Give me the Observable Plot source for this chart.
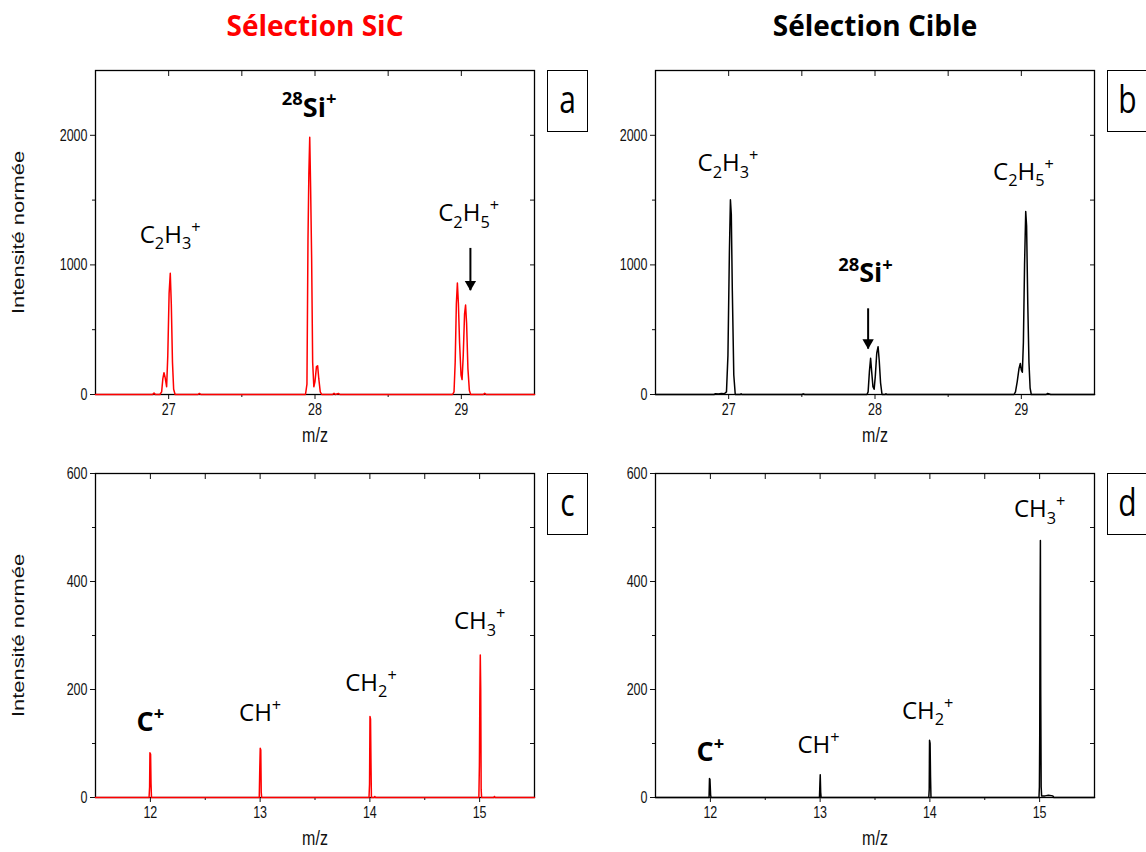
<!DOCTYPE html>
<html>
<head>
<meta charset="utf-8">
<script src="https://cdn.jsdelivr.net/npm/d3@7"></script>
<script src="https://cdn.jsdelivr.net/npm/@observablehq/plot@0.6"></script>
<style>
  html, body { margin: 0; padding: 0; background: #fff; }
  #fig { position: relative; width: 1146px; height: 852px; overflow: hidden; background: #fff; }
  #fig svg { position: absolute; }
  .title { position: absolute; top: 8px; font-family: "Open Sans", sans-serif; font-weight: bold; font-size: 28px; line-height: 34px; white-space: nowrap; transform: translateX(-50%); }
  .tag { position: absolute; box-sizing: border-box; width: 41px; height: 62px; border: 1.3px solid #000; background: #fff;
         font-family: "Open Sans", sans-serif; font-size: 30px; line-height: 56px; text-align: center; color: #000; }
  .tag span { display: inline-block; transform: scaleY(1.3); }
</style>
</head>
<body>
<div id="fig"></div>
<script>
// ---------------- data ----------------
// [m/z, normalised intensity]
const spectrumA = [ // Sélection SiC, m/z 26.5–29.5 (red)
  [26.50,0],[26.89,0],[26.90,12],[26.91,0],[26.94,0],[26.952,20],[26.960,120],[26.968,168],[26.976,130],
  [26.986,60],[26.994,300],[27.003,780],[27.011,936],[27.018,700],[27.026,250],[27.034,40],[27.044,0],
  [27.20,0],[27.21,8],[27.22,0],
  [27.935,0],[27.945,80],[27.952,1185],[27.958,1700],[27.964,1985],[27.970,1600],[27.977,1050],[27.984,250],
  [27.992,60],[28.000,100],[28.010,215],[28.018,222],[28.026,120],[28.036,20],[28.046,0],
  [28.12,0],[28.13,10],[28.14,0],[28.16,8],[28.17,0],
  [28.940,0],[28.950,20],[28.958,250],[28.966,700],[28.973,860],[28.980,700],[28.988,400],[28.998,150],
  [29.005,115],[29.013,300],[29.022,620],[29.029,690],[29.036,550],[29.045,200],[29.055,30],[29.064,0],
  [29.15,0],[29.16,10],[29.17,0],[29.50,0]
];
const spectrumB = [ // Sélection Cible, m/z 26.5–29.5 (black)
  [26.50,0],[26.90,0],[26.91,6],[26.93,4],[26.95,8],[26.97,6],[26.985,20],[26.995,300],[27.005,1100],
  [27.012,1503],[27.018,1390],[27.025,800],[27.035,150],[27.045,0],
  [27.08,0],[27.085,6],[27.09,0],[27.50,0],[27.51,5],[27.52,0],
  [27.945,0],[27.953,20],[27.962,180],[27.970,280],[27.977,180],[27.986,60],[27.994,40],[28.002,140],
  [28.012,320],[28.021,369],[28.029,260],[28.038,90],[28.048,0],
  [28.07,0],[28.075,6],[28.08,0],
  [28.950,0],[28.960,20],[28.972,100],[28.984,200],[28.993,240],[29.000,190],[29.007,172],[29.014,400],
  [29.022,1000],[29.030,1412],[29.036,1300],[29.044,700],[29.052,250],[29.060,50],[29.068,0],
  [29.17,0],[29.18,8],[29.19,5],[29.20,0],[29.50,0]
];
const spectrumC = [ // Sélection SiC, m/z 11.5–15.5 (red)
  [11.50,0],[11.988,0],[11.993,20],[11.996,83],[12.002,80],[12.006,25],[12.010,0],
  [12.992,0],[12.997,55],[13.001,91],[13.006,88],[13.010,10],[13.014,0],
  [13.992,0],[13.997,25],[14.001,150],[14.006,145],[14.010,65],[14.014,0],[14.04,0],[14.045,2],[14.05,0],
  [14.993,0],[14.998,60],[15.002,185],[15.006,264],[15.010,200],[15.014,15],[15.018,0],
  [15.13,0],[15.135,2],[15.14,0],[15.50,0]
];
const spectrumD = [ // Sélection Cible, m/z 11.5–15.5 (black)
  [11.50,0],[11.988,0],[11.992,35],[11.996,34],[12.002,5],[12.006,0],
  [12.994,0],[12.998,25],[13.001,42],[13.005,10],[13.009,0],
  [13.990,0],[13.994,15],[13.997,106],[14.002,100],[14.006,38],[14.010,0],
  [14.994,0],[14.998,20],[15.001,115],[15.004,353],[15.007,476],[15.010,200],[15.014,20],[15.018,3],
  [15.05,3],[15.08,4],[15.12,3],[15.13,0],[15.50,0]
];

// ion labels: text ("_" subscript, "^" superscript), anchor m/z, anchor intensity, bold
const ionsA = [["C_2H_3^+", 27.01, 1230, false], ["^{28}Si^+", 27.96, 2211, true], ["C_2H_5^+", 29.05, 1395, false]];
const ionsB = [["C_2H_3^+", 26.995, 1780, false], ["^{28}Si^+", 27.935, 933, true], ["C_2H_5^+", 29.015, 1716, false]];
const ionsC = [["C^+", 12.0, 139, true], ["CH^+", 13.0, 155, false], ["CH_2^+", 14.01, 212, false], ["CH_3^+", 15.0, 326, false]];
const ionsD = [["C^+", 12.0, 83, true], ["CH^+", 12.985, 96, false], ["CH_2^+", 13.98, 160, false], ["CH_3^+", 15.0, 533, false]];

// arrows: m/z, start intensity, tip intensity
const arrowsA = [[29.062, 1131, 805]];
const arrowsB = [[27.953, 665, 354]];

// axes
const xTicksHigh = [27, 28, 29];
const xMinorHigh = [27.5, 28.5];
const yTicksHigh = [0, 1000, 2000];
const yMinorHigh = [500, 1500];
const xTicksLow = [12, 13, 14, 15];
const xMinorLow = [12.5, 13.5, 14.5];
const yTicksLow = [0, 200, 400, 600];
const yMinorLow = [100, 300, 500];

const titles = ["Sélection SiC", "Sélection Cible"];
const panelTags = ["a", "b", "c", "d"];
const yTitle = "Intensité normée";
const xTitle = "m/z";

// ---------------- drawing ----------------
const fig = document.getElementById("fig");

function parseRich(s) {
  const out = []; let i = 0;
  while (i < s.length) {
    const c = s[i];
    if (c === "_" || c === "^") {
      let t;
      if (s[i + 1] === "{") { const j = s.indexOf("}", i); t = s.slice(i + 2, j); i = j + 1; }
      else { t = s[i + 1]; i += 2; }
      out.push({t, k: c === "_" ? "sub" : "sup"});
    } else {
      let j = i; while (j < s.length && s[j] !== "_" && s[j] !== "^") j++;
      out.push({t: s.slice(i, j), k: "n"}); i = j;
    }
  }
  return out;
}

function stretch(el, kx, ky) {
  const t = el.getAttribute("transform") || "";
  el.setAttribute("transform", (t + ` scale(${kx},${ky})`).trim());
}

function enrich(svg) {
  d3.select(svg).selectAll('g[aria-label="x-axis tick label"] text, g[aria-label="y-axis tick label"] text')
    .each(function() { stretch(this, 1, 1.35); });
  d3.select(svg).selectAll("text").each(function() {
    const s = this.textContent;
    if (s === yTitle) { stretch(this, 1.37, 1); return; }
    if (s === xTitle) { stretch(this, 1, 1.3); return; }
    if (!/[_^]/.test(s)) return;
    const fs = parseFloat(getComputedStyle(this).fontSize);
    const parts = parseRich(s);
    this.textContent = "";
    let shift = 0;
    for (const p of parts) {
      const target = p.k === "sub" ? 0.27 * fs : p.k === "sup" ? -0.42 * fs : 0;
      const ts = document.createElementNS("http://www.w3.org/2000/svg", "tspan");
      ts.textContent = p.t;
      ts.setAttribute("dy", target - shift);
      ts.setAttribute("font-size", p.k === "n" ? fs : 0.68 * fs);
      shift = target;
      this.appendChild(ts);
    }
  });
}

function panel(cfg) {
  const rows = cfg.data.map(([mz, intensity]) => ({mz, intensity}));
  const ions = cfg.ions.map(([ion, mz, intensity, bold]) => ({ion, mz, intensity, bold}));
  const arrows = (cfg.arrows || []).map(([mz, from, to]) => ({mz, from, to}));
  const fmt = d => String(d);
  const none = () => "";
  const marks = [
    Plot.axisX({ticks: cfg.xMajor, tickSize: 5, tickPadding: 4, tickFormat: fmt, label: null}),
    Plot.axisX({ticks: cfg.xMinor, tickSize: 3, tickFormat: none, label: null}),
    Plot.axisX({anchor: "top", ticks: [...cfg.xMajor, ...cfg.xMinor], tickSize: -5, tickFormat: none, label: null}),
    Plot.axisY({ticks: cfg.yMajor, tickSize: 5, tickPadding: 3, tickFormat: fmt, label: null}),
    Plot.axisY({ticks: cfg.yMinor, tickSize: 3, tickFormat: none, label: null}),
    Plot.axisY({anchor: "right", ticks: [...cfg.yMajor.slice(1), ...cfg.yMinor], tickSize: -5, tickFormat: none, label: null}),
    Plot.frame({stroke: "#000", strokeWidth: 1.3}),
    Plot.line(rows, {x: "mz", y: "intensity", stroke: cfg.color, strokeWidth: 1.5}),
    Plot.text(ions.filter(d => !d.bold), {x: "mz", y: "intensity", text: "ion", fontFamily: "Open Sans", fontSize: 24, fill: "#000"}),
    Plot.text(ions.filter(d => d.bold), {x: "mz", y: "intensity", text: "ion", fontFamily: "Open Sans", fontWeight: "bold", fontSize: 27, fill: "#000"}),
    Plot.link(arrows, {x1: "mz", x2: "mz", y1: "from", y2: "to", stroke: "#000", strokeWidth: 2}),
    Plot.dot(arrows, {x: "mz", y: "to", symbol: "triangle", rotate: 180, r: 4.2, fill: "#000", stroke: "none", dy: -6}),
    Plot.text([xTitle], {frameAnchor: "bottom", dy: 47, textAnchor: "middle", fontFamily: "Liberation Sans, Arial, sans-serif", fontSize: 16, fill: "#111"})
  ];
  if (cfg.yLabel) {
    marks.push(Plot.text([yTitle], {frameAnchor: "left", textAnchor: "middle", rotate: -90, dx: -77, fontFamily: "Liberation Sans, Arial, sans-serif", fontSize: 16, fill: "#111"}));
  }
  const svg = Plot.plot({
    width: cfg.width, height: cfg.height,
    marginLeft: cfg.ml, marginRight: cfg.mr, marginTop: cfg.mt, marginBottom: cfg.mb,
    x: {domain: cfg.xDomain},
    y: {domain: cfg.yDomain},
    style: {fontFamily: "Liberation Sans, Arial, sans-serif", fontSize: "12.5px", color: "#111", background: "transparent", overflow: "visible"},
    marks
  });
  svg.style.left = cfg.left + "px";
  svg.style.top = cfg.top + "px";
  fig.appendChild(svg);
  enrich(svg);
  // panel tag box to the right of the frame
  const tag = document.createElement("div");
  tag.className = "tag";
  tag.style.left = (cfg.left + cfg.width - cfg.mr + 13) + "px";
  tag.style.top = (cfg.top + cfg.mt) + "px";
  tag.innerHTML = `<span>${cfg.tag}</span>`;
  fig.appendChild(tag);
}

const common = {width: 600, ml: 95, mr: 66, mt: 20};
panel({...common, left: 0, top: 50, height: 410, mb: 66, data: spectrumA, color: "#ff0000",
  xDomain: [26.5, 29.5], yDomain: [0, 2500], xMajor: xTicksHigh, xMinor: xMinorHigh, yMajor: yTicksHigh, yMinor: yMinorHigh,
  ions: ionsA, arrows: arrowsA, yLabel: true, tag: panelTags[0]});
panel({...common, left: 560, top: 50, height: 410, mb: 66, data: spectrumB, color: "#000",
  xDomain: [26.5, 29.5], yDomain: [0, 2500], xMajor: xTicksHigh, xMinor: xMinorHigh, yMajor: yTicksHigh, yMinor: yMinorHigh,
  ions: ionsB, arrows: arrowsB, yLabel: false, tag: panelTags[1]});
panel({...common, left: 0, top: 453, height: 399, mb: 55, data: spectrumC, color: "#ff0000",
  xDomain: [11.5, 15.5], yDomain: [0, 600], xMajor: xTicksLow, xMinor: xMinorLow, yMajor: yTicksLow, yMinor: yMinorLow,
  ions: ionsC, yLabel: true, tag: panelTags[2]});
panel({...common, left: 560, top: 453, height: 399, mb: 55, data: spectrumD, color: "#000",
  xDomain: [11.5, 15.5], yDomain: [0, 600], xMajor: xTicksLow, xMinor: xMinorLow, yMajor: yTicksLow, yMinor: yMinorLow,
  ions: ionsD, yLabel: false, tag: panelTags[3]});

// column titles
[[titles[0], 315, "#ff0000"], [titles[1], 875, "#000"]].forEach(([t, cx, col]) => {
  const d = document.createElement("div");
  d.className = "title";
  d.style.left = cx + "px";
  d.style.color = col;
  d.textContent = t;
  fig.appendChild(d);
});
</script>
</body>
</html>
